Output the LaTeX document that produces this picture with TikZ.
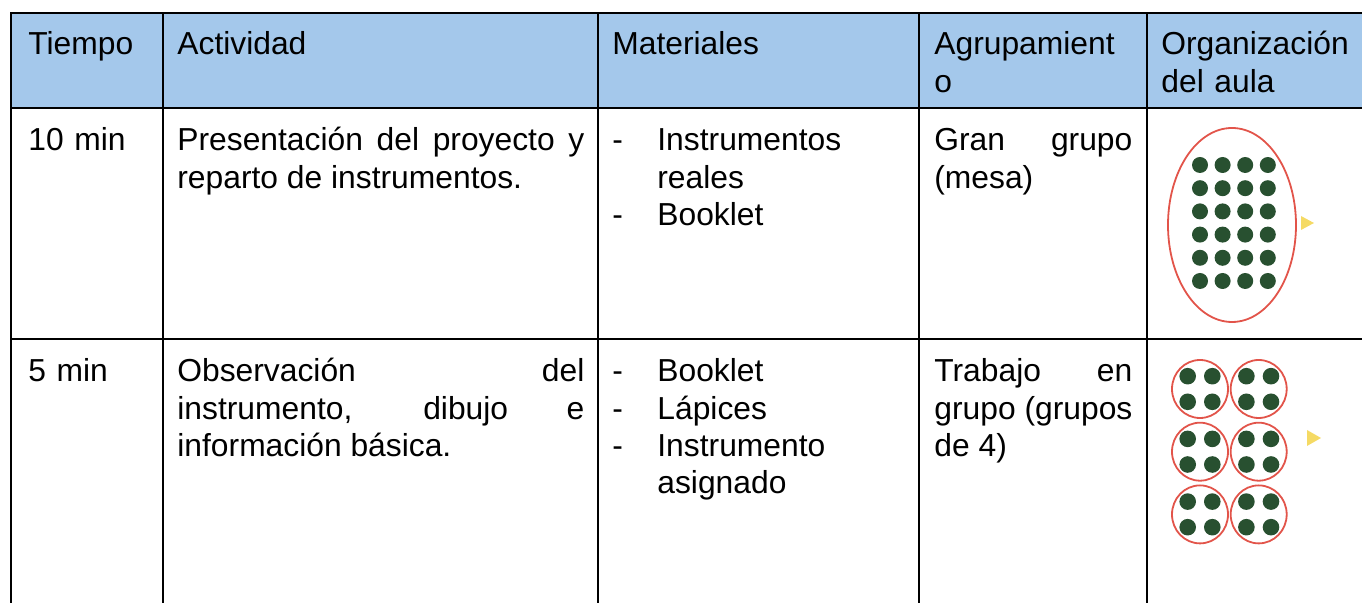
\documentclass[tikz,border=0pt]{standalone}
\usepackage{fontspec}
\setmainfont{Liberation Sans}
\usetikzlibrary{positioning}

\definecolor{headblue}{RGB}{164,200,235}
\definecolor{seatgreen}{RGB}{40,80,48}
\definecolor{ringred}{RGB}{226,84,74}
\definecolor{boardyellow}{RGB}{245,218,100}

\tikzset{
    rule/.style    = {line width=1pt, line cap=rect},
    cell/.style    = {anchor=base west, inner sep=0pt, align=left, text width=#1,
                      font=\fontsize{15.9}{18.65}\selectfont},
    cell/.default  = 145pt,
    jcell/.style   = {cell=#1, align=justify},
    ring/.style    = {draw=ringred, line width=0.9pt},
    seat/.style    = {fill=seatgreen},
    board/.style   = {fill=boardyellow}
}
\newcommand{\itm}[1]{\makebox[22.5pt][l]{-}#1}
\newcommand{\itmcont}[1]{\hspace*{22.5pt}#1}

\begin{document}
\begin{tikzpicture}[x=0.5pt, y=-0.5pt]
    \useasboundingbox (0,0) rectangle (1362,603);
    \fill[headblue] (11,13) rectangle (1362,108);

    \foreach \Y in {13,108,339}
    \draw[rule] (11,\Y) -- (1362,\Y);
    \foreach \X in {11,163,598,919,1147}
    \draw[rule] (\X,13) -- (\X,603);

    \node[cell=65pt]  (time-h) at (28,55)   {Tiempo};
    \node[cell=203pt] (act-h)  at (177,55)  {Actividad};
    \node[cell]       (mat-h)  at (612,55)  {Materiales};
    \node[cell=99pt]  (grp-h)  at (934,55)  {Agrupamient\\o};
    \node[cell=100pt] (org-h)  at (1161,55) {Organización\\del aula};

    \node[cell=65pt]   (time-1) at (28,151)  {10 min};
    \node[jcell=203.5pt] (act-1) at (177,151)
        {Presentación del proyecto y\linebreak reparto de instrumentos.};
    \node[cell]        (mat-1)  at (612,151)
        {\itm{Instrumentos}\\\itmcont{reales}\\\itm{Booklet}};
    \node[jcell=99pt]  (grp-1)  at (934,151)
        {Gran grupo\linebreak (mesa)};

    \node[cell=65pt]   (time-2) at (28,382)  {5 min};
    \node[jcell=203.5pt] (act-2) at (177,382)
        {Observación del\linebreak instrumento, dibujo e\linebreak información básica.};
    \node[cell]        (mat-2)  at (612,382)
        {\itm{Booklet}\\\itm{Lápices}\\\itm{Instrumento}\\\itmcont{asignado}};
    \node[jcell=99pt]  (grp-2)  at (934,382)
        {Trabajo en\linebreak grupo (grupos\linebreak de 4)};

    \draw[ring] (1232,225) ellipse [x radius=64, y radius=97];
    \foreach \i in {0,...,3}
    \foreach \j in {0,...,5}
    \fill[seat] (1200+22.6*\i,165+23.2*\j) circle (8);
    \fill[board] (1301,216) -- (1314,223) -- (1301,230) -- cycle;

    \foreach \cx in {1200,1258.7}
    \foreach \cy in {389,451.7,514.4} {
        \draw[ring] (\cx,\cy) ellipse [x radius=28, y radius=29];
        \foreach \dx in {-12.3,12.3}
        \foreach \dy in {-12.8,12.8}
        \fill[seat] (\cx+\dx,\cy+\dy) circle (8.3);
    }
    \fill[board] (1307,430) -- (1321,438) -- (1307,446) -- cycle;
\end{tikzpicture}
\end{document}
